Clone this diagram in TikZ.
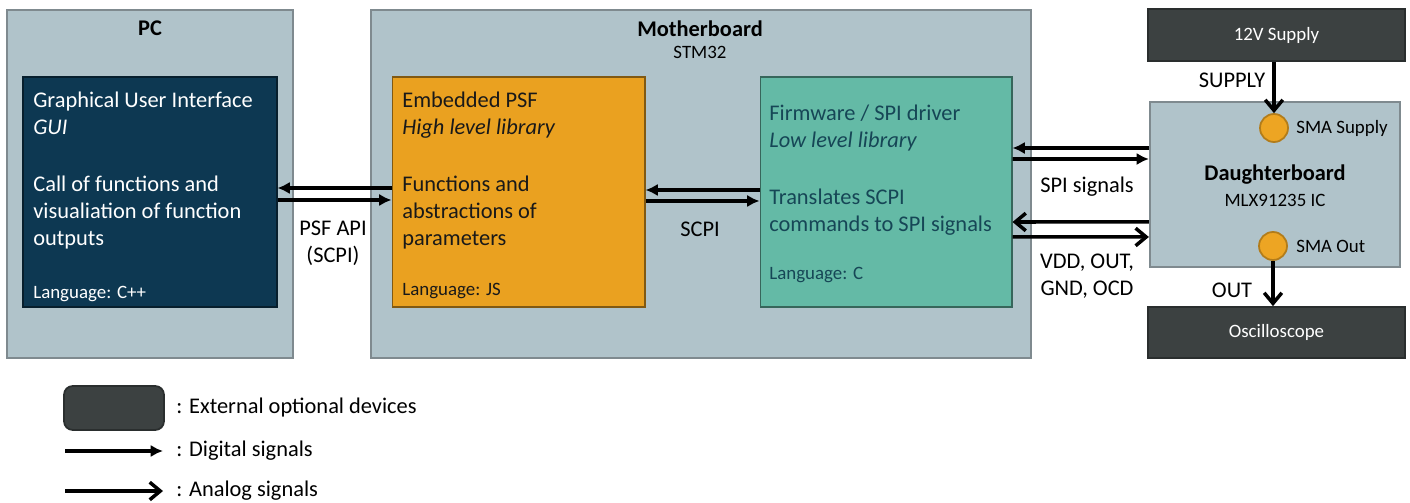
\documentclass[tikz,border=0pt]{standalone}
\usepackage{fontspec}
\setmainfont{Carlito}
\usetikzlibrary{arrows.meta}
\definecolor{boardfill}{RGB}{176,195,202}
\definecolor{boardedge}{RGB}{127,138,143}
\definecolor{guifill}{RGB}{13,56,82}
\definecolor{psffill}{RGB}{234,161,32}
\definecolor{fwfill}{RGB}{100,186,166}
\definecolor{fwtext}{RGB}{22,70,86}
\definecolor{extfill}{RGB}{60,65,65}
\definecolor{smafill}{RGB}{237,165,35}
\newcommand\mainsize{\fontsize{12.75}{15.3}\selectfont}
\newcommand\notesize{\fontsize{10.75}{13}\selectfont}

\begin{document}
\begin{tikzpicture}[x=0.02cm,y=-0.02cm,
    board/.style={draw=boardedge,fill=boardfill,line width=1.3pt},
    sw/.style={draw=#1!55!black,fill=#1,line width=0.6pt},
    ext/.style={draw=extfill!70!black,fill=extfill,line width=1pt,text=white,font=\notesize},
    sma/.style={circle,draw=smafill!75!black,fill=smafill,line width=1pt,minimum size=0.56cm},
    title/.style={font=\mainsize\bfseries,inner sep=0pt},
    sub/.style={font=\notesize,inner sep=0pt},
    body/.style={font=\mainsize,align=left,anchor=north west,inner sep=0pt},
    lang/.style={font=\notesize,anchor=base west,inner sep=0pt},
    lbl/.style={font=\mainsize,align=center,inner sep=0pt},
    dig/.style={line width=2pt,-{Latex[length=7pt,width=7pt]}},
    ana/.style={line width=2pt,-{Straight Barb[length=6pt,width=10pt,line width=2pt]}}]
  \useasboundingbox (0,0) rectangle (1410,503);

  % boards
  \node[board,minimum width=5.72cm,minimum height=6.96cm] (pc) at (150,184) {};
  \node[board,minimum width=13.2cm,minimum height=6.96cm] (mb) at (701,184) {};
  \node[board,minimum width=5cm,minimum height=3.3cm] (db) at (1275,184.5) {};
  \node[title] (pctitle) at (150,28) {PC};
  \node[title] (mbtitle) at (700,29) {Motherboard};
  \node[sub] (mbsub) at (700,52) {STM32};
  \node[title] (dbtitle) at (1275,175) {Daughterboard};
  \node[sub] (dbsub) at (1275,200) {MLX91235 IC};

  % software blocks
  \node[sw=guifill,minimum width=5.08cm,minimum height=4.6cm] (gui) at (150,192) {};
  \node[sw=psffill,minimum width=5.06cm,minimum height=4.6cm] (psf) at (518.5,192) {};
  \node[sw=fwfill,minimum width=5.04cm,minimum height=4.6cm] (fw) at (886,192) {};
  \node[body,text=white] (guitxt) at (33,92) {Graphical User Interface\\\textit{GUI}\\[17pt]Call of functions and\\visualiation of function\\outputs};
  \node[lang,text=white] (guilang) at (33,298) {Language: C++};
  \node[body,text=black!90] (psftxt) at (402,92) {Embedded PSF\\\textit{High level library}\\[17pt]Functions and\\abstractions of\\parameters};
  \node[lang,text=black!90] (psflang) at (402,296) {Language: JS};
  \node[body,text=fwtext] (fwtxt) at (769,105) {Firmware / SPI driver\\\textit{Low level library}\\[17pt]Translates SCPI\\commands to SPI signals};
  \node[lang,text=fwtext] (fwlang) at (769,279) {Language: C};

  % external devices
  \node[ext,minimum width=5.14cm,minimum height=1.04cm] (supply) at (1276.5,35) {12V Supply};
  \node[ext,minimum width=5.14cm,minimum height=1.02cm] (osc) at (1276.5,332.5) {Oscilloscope};
  \node[sma] (smasup) at (1274,128) {};
  \node[sma] (smaout) at (1273,246) {};
  \node[sub,anchor=west] (smasuptxt) at (1296,128) {SMA Supply};
  \node[sub,anchor=west] (smaouttxt) at (1296,246) {SMA Out};

  % connections
  \draw[dig] ([yshift=0.08cm]psf.west) -- ([yshift=0.08cm]gui.east);
  \draw[dig] ([yshift=-0.16cm]gui.east) -- ([yshift=-0.16cm]psf.west);
  \draw[dig] ([yshift=0.04cm]fw.west) -- ([yshift=0.04cm]psf.east);
  \draw[dig] ([yshift=-0.18cm]psf.east) -- ([yshift=-0.18cm]fw.west);
  \draw[dig] ([yshift=0.73cm]db.west) -- ([yshift=0.88cm]fw.east);
  \draw[dig] ([yshift=0.66cm]fw.east) -- ([yshift=0.51cm]db.west);
  \draw[ana] ([yshift=-0.75cm]db.west) -- ([yshift=-0.6cm]fw.east);
  \draw[ana] ([yshift=-0.9cm]fw.east) -- ([yshift=-1.05cm]db.west);
  \draw[ana] (supply.south -| smasup) -- (smasup.north);
  \draw[ana] (smaout.south) -- (osc.north -| smaout);
  \node[lbl] (apilbl) at (333,243) {PSF API\\(SCPI)};
  \node[lbl] (scpilbl) at (700,229) {SCPI};
  \node[lbl] (spilbl) at (1087,187) {SPI signals};
  \node[lbl] (pinlbl) at (1087,276) {VDD, OUT,\\GND, OCD};
  \node[lbl] (suplbl) at (1232,80) {SUPPLY};
  \node[lbl] (outlbl) at (1232,290) {OUT};

  % legend
  \node[ext,rounded corners=5pt,minimum width=2cm,minimum height=0.88cm] (legext) at (114,408) {};
  \coordinate (legd1) at (65,451);
  \coordinate (legd2) at (163,451);
  \coordinate (lega1) at (65,491);
  \coordinate (lega2) at (163,491);
  \draw[dig] (legd1) -- (legd2);
  \draw[ana] (lega1) -- (lega2);
  \node[lbl,anchor=west] (legexttxt) at (176,408) {: External optional devices};
  \node[lbl,anchor=west] (legdigtxt) at (176,451) {: Digital signals};
  \node[lbl,anchor=west] (leganatxt) at (176,491) {: Analog signals};
\end{tikzpicture}
\end{document}
